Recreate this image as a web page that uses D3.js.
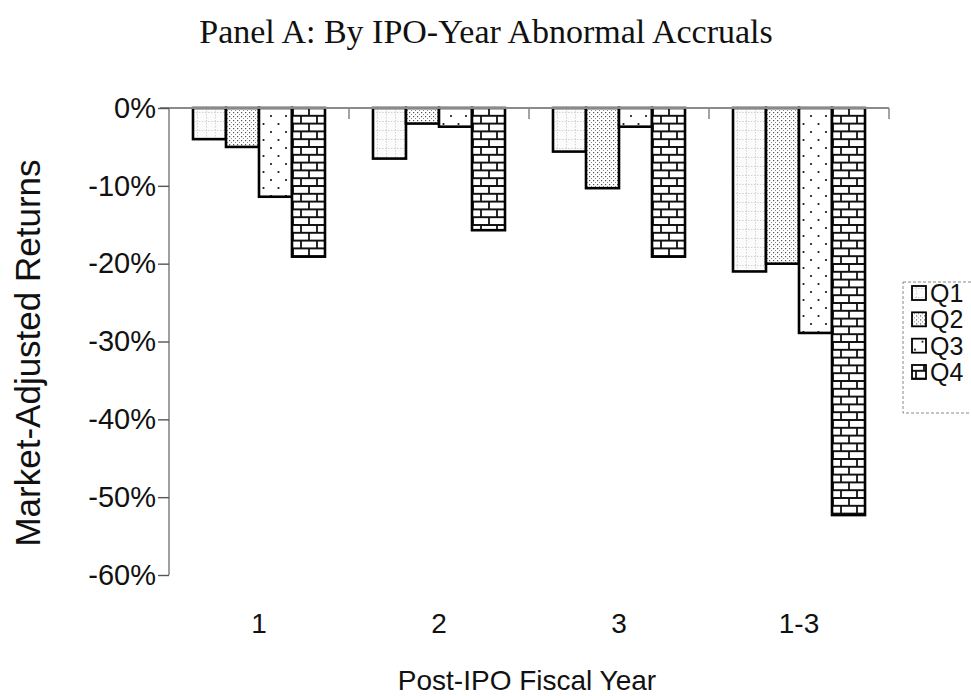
<!DOCTYPE html>
<html>
<head>
<meta charset="utf-8">
<script src="https://cdn.jsdelivr.net/npm/d3@7"></script>
<style>
  html, body { margin: 0; padding: 0; background: #fff; }
  svg { display: block; }
</style>
</head>
<body>
<svg id="chart" width="971" height="696"></svg>
<script>
const categories = ["1", "2", "3", "1-3"];
const seriesNames = ["Q1", "Q2", "Q3", "Q4"];
const q1Values = [-4.0, -6.5, -5.6, -21.0];
const q2Values = [-5.0, -2.0, -10.3, -20.0];
const q3Values = [-11.4, -2.4, -2.4, -28.9];
const q4Values = [-19.1, -15.7, -19.1, -52.3];
const yTickValues = [0, -10, -20, -30, -40, -50, -60];
const titleText = "Panel A: By IPO-Year Abnormal Accruals";
const xTitleText = "Post-IPO Fiscal Year";
const yTitleText = "Market-Adjusted Returns";

(function () {
const seriesValues = [q1Values, q2Values, q3Values, q4Values];
const patternIds = ["pQ1", "pQ2", "pQ3", "pQ4"];

const svg = d3.select("#chart");
const pLeft = 169, pRight = 889, pTop = 108, pBottom = 575;
const sans = "Liberation Sans, Arial, sans-serif";

// patterns
const defs = svg.append("defs");
// Q1: light fine grid
const p1 = defs.append("pattern").attr("id", "pQ1").attr("patternUnits", "userSpaceOnUse")
  .attr("width", 9).attr("height", 9);
p1.append("rect").attr("width", 9).attr("height", 9).attr("fill", "#fbfbfb");
p1.append("path").attr("d", "M0,4.5H9M4.5,0V9").attr("stroke", "#c8c8c8").attr("stroke-width", 0.8)
  .attr("stroke-dasharray", "1.5,1.5");
// Q2: dense stipple
const p2 = defs.append("pattern").attr("id", "pQ2").attr("patternUnits", "userSpaceOnUse")
  .attr("width", 4).attr("height", 4);
p2.append("rect").attr("width", 4).attr("height", 4).attr("fill", "#fff");
p2.append("rect").attr("x", 0).attr("y", 0).attr("width", 1.2).attr("height", 1.2).attr("fill", "#555");
p2.append("rect").attr("x", 2).attr("y", 2).attr("width", 1.0).attr("height", 1.0).attr("fill", "#888");
// Q3: sparse dots
const p3 = defs.append("pattern").attr("id", "pQ3").attr("patternUnits", "userSpaceOnUse")
  .attr("width", 15).attr("height", 16);
p3.append("rect").attr("width", 15).attr("height", 16).attr("fill", "#fff");
p3.append("circle").attr("cx", 3).attr("cy", 4).attr("r", 1.1).attr("fill", "#111");
p3.append("circle").attr("cx", 10.5).attr("cy", 12).attr("r", 1.1).attr("fill", "#111");
// Q4: bricks
const p4 = defs.append("pattern").attr("id", "pQ4").attr("patternUnits", "userSpaceOnUse")
  .attr("width", 16).attr("height", 15.6).attr("x", 0).attr("y", pTop);
p4.append("rect").attr("width", 16).attr("height", 15.6).attr("fill", "#fff");
p4.append("path")
  .attr("d", "M0,7.8H16M0,15.6H16M0,0H16M4,0V7.8M12,7.8V15.6")
  .attr("stroke", "#111").attr("stroke-width", 1.8);

// scales
const x0 = d3.scaleBand().domain(categories).range([pLeft, pRight])
  .paddingInner(0.2667).paddingOuter(0.1333);
const x1 = d3.scaleBand().domain(seriesNames).range([0, x0.bandwidth()]).padding(0);
const y = d3.scaleLinear().domain([0, -60]).range([pTop, pBottom]);

// title
svg.append("text").attr("x", 486).attr("y", 43).attr("text-anchor", "middle")
  .attr("font-family", "Liberation Serif, Times New Roman, serif").attr("font-size", 34)
  .attr("fill", "#111").text(titleText);

// bars
const groups = svg.append("g").selectAll("g").data(categories).join("g")
  .attr("transform", d => `translate(${x0(d)},0)`);
groups.selectAll("rect").data((c, ci) => seriesNames.map((s, si) => ({ s, si, v: seriesValues[si][ci] })))
  .join("rect")
  .attr("x", d => x1(d.s))
  .attr("y", d => y(Math.max(0, d.v)))
  .attr("width", x1.bandwidth())
  .attr("height", d => Math.abs(y(d.v) - y(0)))
  .attr("fill", d => `url(#${patternIds[d.si]})`)
  .attr("stroke", "#000").attr("stroke-width", 2.6);

// zero line / x axis (top)
const xAxis = d3.axisBottom(x0).tickSize(11).tickFormat("");
const xg = svg.append("g").attr("transform", `translate(0,${y(0)})`).call(xAxis);
xg.select(".domain").remove();
xg.selectAll(".tick line").attr("stroke", "#666").attr("stroke-width", 1.2)
  .attr("transform", d => `translate(${x0.step() / 2},0)`);
svg.append("line").attr("x1", 160).attr("x2", pRight).attr("y1", y(0)).attr("y2", y(0))
  .attr("stroke", "#8a8a8a").attr("stroke-width", 2);

// y axis
const yAxis = d3.axisLeft(y).tickValues(yTickValues).tickSize(11).tickFormat(d => d + "%");
const yg = svg.append("g").attr("transform", `translate(${pLeft},0)`).call(yAxis);
yg.select(".domain").attr("stroke", "#777").attr("stroke-width", 1.4).attr("d", `M0,${pTop}V${pBottom}`);
yg.selectAll(".tick line").attr("stroke", "#555").attr("stroke-width", 1.4);
yg.selectAll(".tick text").attr("font-family", sans)
  .attr("font-size", 29).attr("fill", "#111").attr("x", -13);

// x tick labels
svg.append("g").selectAll("text").data(categories).join("text")
  .attr("x", d => x0(d) + x0.bandwidth() / 2).attr("y", 633)
  .attr("text-anchor", "middle").attr("font-family", sans)
  .attr("font-size", 28).attr("fill", "#111").text(d => d);

// axis titles
svg.append("text").attr("x", 527).attr("y", 690).attr("text-anchor", "middle")
  .attr("font-family", sans).attr("font-size", 28)
  .attr("fill", "#111").text(xTitleText);
svg.append("text").attr("transform", `translate(40,353) rotate(-90)`)
  .attr("text-anchor", "middle").attr("font-family", sans)
  .attr("font-size", 35).attr("fill", "#111").text(yTitleText);

// legend
const lg = svg.append("g");
lg.append("rect").attr("x", 903).attr("y", 282).attr("width", 80).attr("height", 131)
  .attr("fill", "#fff").attr("stroke", "#888").attr("stroke-width", 1).attr("stroke-dasharray", "3,2");
const ly = d3.scalePoint().domain(seriesNames).range([293, 372]);
const items = lg.selectAll("g.item").data(seriesNames).join("g").attr("class", "item")
  .attr("transform", d => `translate(912,${ly(d)})`);
items.append("rect").attr("x", 0).attr("y", -7).attr("width", 14).attr("height", 14)
  .attr("fill", (d, i) => `url(#${patternIds[i]})`).attr("stroke", "#000").attr("stroke-width", 1.8);
items.append("text").attr("x", 18).attr("y", 0).attr("dy", "0.36em")
  .attr("font-family", sans).attr("font-size", 25)
  .attr("fill", "#111").text(d => d);
})();
</script>
</body>
</html>
